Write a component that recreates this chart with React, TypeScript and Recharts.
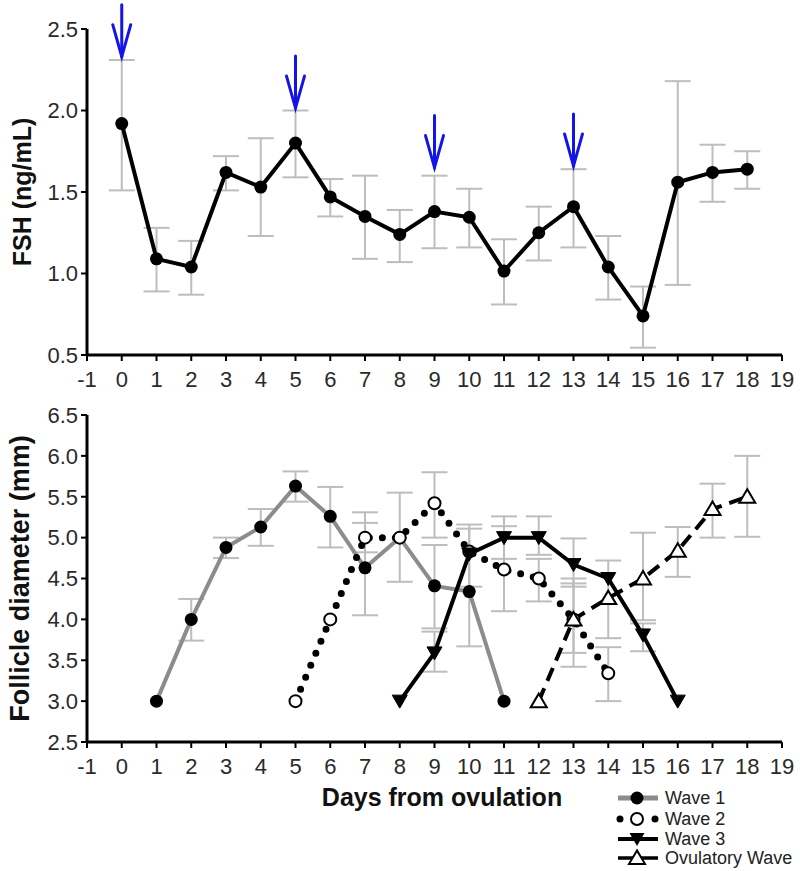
import React from 'react';
import { ComposedChart, Line, Scatter, XAxis, YAxis, ErrorBar, Legend, Label } from 'recharts';

const FONT = '"Liberation Sans", Arial, Helvetica, sans-serif';

// ---------- Top panel: FSH ----------
const fshDays = [0, 1, 2, 3, 4, 5, 6, 7, 8, 9, 10, 11, 12, 13, 14, 15, 16, 17, 18];
const fshMean = [1.92, 1.09, 1.04, 1.62, 1.53, 1.8, 1.47, 1.35, 1.24, 1.38, 1.345, 1.015, 1.25, 1.41, 1.04, 0.74, 1.56, 1.62, 1.64];
const fshLow = [1.51, 0.89, 0.87, 1.51, 1.23, 1.59, 1.35, 1.09, 1.07, 1.155, 1.16, 0.81, 1.08, 1.16, 0.84, 0.545, 0.93, 1.44, 1.52];
const fshHigh = [2.31, 1.28, 1.2, 1.72, 1.83, 2.0, 1.58, 1.6, 1.39, 1.6, 1.52, 1.21, 1.41, 1.64, 1.23, 0.92, 2.18, 1.79, 1.75];
const fshTicks = [0.5, 1.0, 1.5, 2.0, 2.5];

const arrowDays = [0, 5, 9, 13];
const arrowTips = [2.33, 2.015, 1.65, 1.66];

// ---------- Bottom panel: follicle diameter ----------
const wave1Days = [1, 2, 3, 4, 5, 6, 7, 8, 9, 10, 11];
const wave1Mean = [3.0, 4.0, 4.88, 5.13, 5.63, 5.26, 4.63, 5.0, 4.41, 4.34, 3.0];
const wave1Low = [null, 3.74, 4.75, 4.9, 5.44, 4.88, 4.05, 4.46, 3.89, 3.67, null];
const wave1High = [null, 4.25, 5.0, 5.35, 5.81, 5.62, 5.31, 5.55, 4.91, 5.11, null];

const wave2Days = [5, 6, 7, 8, 9, 10, 11, 12, 13, 14];
const wave2Mean = [3.0, 4.0, 5.0, 5.0, 5.42, 4.83, 4.61, 4.5, 4.0, 3.34];
const wave2Low = [null, null, 4.82, null, 5.0, null, 4.1, 4.22, 3.42, 3.0];
const wave2High = [null, null, 5.18, null, 5.8, null, 5.14, 4.74, 4.5, 3.66];

const wave3Days = [8, 9, 10, 11, 12, 13, 14, 15, 16];
const wave3Mean = [3.0, 3.59, 4.8, 5.0, 5.0, 4.67, 4.5, 3.81, 3.0];
const wave3Low = [null, 3.36, 4.4, 4.74, 4.79, 4.4, null, 3.61, null];
const wave3High = [null, 3.85, 5.16, 5.26, 5.26, 4.99, null, 3.95, null];

const ovulDays = [12, 13, 14, 15, 16, 17, 18];
const ovulMean = [3.0, 4.0, 4.26, 4.5, 4.84, 5.35, 5.5];
const ovulLow = [null, 3.59, 3.77, 3.99, 4.52, 5.0, 5.01];
const ovulHigh = [null, 4.44, 4.72, 5.06, 5.13, 5.66, 6.0];

const follTicks = [2.5, 3.0, 3.5, 4.0, 4.5, 5.0, 5.5, 6.0, 6.5];
const xTicks = [-1, 0, 1, 2, 3, 4, 5, 6, 7, 8, 9, 10, 11, 12, 13, 14, 15, 16, 17, 18, 19];

const legendLabels = ['Wave 1', 'Wave 2', 'Wave 3', 'Ovulatory Wave'];

function rows(days: number[], mean: number[], low: (number | null)[], high: (number | null)[]) {
  return days.map((d, i) => ({
    day: d,
    v: mean[i],
    err: low[i] == null || high[i] == null ? null : [mean[i] - (low[i] as number), (high[i] as number) - mean[i]],
  }));
}

const fshRows = rows(fshDays, fshMean, fshLow, fshHigh);
const arrowRows = arrowDays.map((d, i) => ({ day: d, tip: arrowTips[i] }));
const w1Rows = rows(wave1Days, wave1Mean, wave1Low, wave1High);
const w2Rows = rows(wave2Days, wave2Mean, wave2Low, wave2High);
const w3Rows = rows(wave3Days, wave3Mean, wave3Low, wave3High);
const ovRows = rows(ovulDays, ovulMean, ovulLow, ovulHigh);

const ERR = '#bdbdbd';
const tickStyle = { fontSize: 22, fill: '#2a2a2a', fontFamily: FONT };
const axisLineStyle = { stroke: '#000', strokeWidth: 3 };
const tickLineStyle = { stroke: '#000', strokeWidth: 2 };

const filledDot = (p: any) =>
  p.cx == null ? <g key={p.index} /> : <circle key={p.index} cx={p.cx} cy={p.cy} r={6.5} fill="#000" stroke="none" />;
const openDot = (p: any) =>
  p.cx == null ? <g key={p.index} /> : <circle key={p.index} cx={p.cx} cy={p.cy} r={6} fill="#fff" stroke="#000" strokeWidth={2} />;
const downTri = (p: any) =>
  p.cx == null ? (
    <g key={p.index} />
  ) : (
    <polygon key={p.index} points={`${p.cx - 7.5},${p.cy - 6} ${p.cx + 7.5},${p.cy - 6} ${p.cx},${p.cy + 7}`} fill="#000" stroke="#000" strokeWidth={1} />
  );
const upTri = (p: any) =>
  p.cx == null ? (
    <g key={p.index} />
  ) : (
    <polygon key={p.index} points={`${p.cx},${p.cy - 7.5} ${p.cx - 8},${p.cy + 6} ${p.cx + 8},${p.cy + 6}`} fill="#fff" stroke="#000" strokeWidth={2} />
  );

const ArrowShape = (p: any) => {
  const { cx, cy } = p;
  if (cx == null) return <g />;
  return (
    <g stroke="#1414e6" strokeWidth={3} fill="none" strokeLinecap="round">
      <line x1={cx} y1={cy - 52} x2={cx} y2={cy} />
      <polyline points={`${cx - 9},${cy - 32} ${cx},${cy} ${cx + 9},${cy - 32}`} />
    </g>
  );
};

const yLabel = (text: string, size: number, xPos: number) => (props: any) => {
  const vb = props.viewBox || {};
  const cy = vb.y + vb.height / 2;
  return (
    <text
      x={xPos}
      y={cy}
      transform={`rotate(-90, ${xPos}, ${cy})`}
      textAnchor="middle"
      dominantBaseline="central"
      fontFamily={FONT}
      fontWeight="bold"
      fontSize={size}
      fill="#111"
    >
      {text}
    </text>
  );
};

const xTitle = (props: any) => {
  const vb = props.viewBox || {};
  return (
    <text x={442} y={vb.y + 55} textAnchor="middle" dominantBaseline="central" fontFamily={FONT} fontWeight="bold" fontSize={25} fill="#111">
      Days from ovulation
    </text>
  );
};

const renderLegend = () => {
  const ys = [13, 34, 54, 73];
  const sx = 37;
  return (
    <svg width={200} height={84} style={{ overflow: 'visible' }}>
      <line x1={18} y1={ys[0]} x2={58} y2={ys[0]} stroke="#8c8c8c" strokeWidth={5} />
      <circle cx={sx} cy={ys[0]} r={6.5} fill="#000" />
      <circle cx={20} cy={ys[1]} r={3.5} fill="#000" />
      <circle cx={55} cy={ys[1]} r={3.5} fill="#000" />
      <circle cx={sx} cy={ys[1]} r={6} fill="#fff" stroke="#000" strokeWidth={2} />
      <line x1={18} y1={ys[2]} x2={58} y2={ys[2]} stroke="#000" strokeWidth={4} />
      <polygon points={`${sx - 7.5},${ys[2] - 6} ${sx + 7.5},${ys[2] - 6} ${sx},${ys[2] + 7}`} fill="#000" />
      <line x1={18} y1={ys[3]} x2={58} y2={ys[3]} stroke="#000" strokeWidth={3.5} />
      <polygon points={`${sx},${ys[3] - 7.5} ${sx - 8},${ys[3] + 6} ${sx + 8},${ys[3] + 6}`} fill="#fff" stroke="#000" strokeWidth={2} />
      {legendLabels.map((t, i) => (
        <text key={t} x={65} y={ys[i]} dominantBaseline="central" fontFamily={FONT} fontSize={18} fill="#222">
          {t}
        </text>
      ))}
    </svg>
  );
};

export default function App() {
  return (
    <div style={{ position: 'absolute', left: 0, top: 0, width: 800, height: 871, background: '#fff' }}>
      <div style={{ position: 'absolute', left: 0, top: 0 }}>
        <ComposedChart width={800} height={400} margin={{ top: 29, right: 18, bottom: 0, left: 0 }}>
          <XAxis
            type="number"
            dataKey="day"
            domain={[-1, 19]}
            ticks={xTicks}
            interval={0}
            height={45}
            tick={tickStyle}
            tickSize={6}
            tickMargin={10}
            axisLine={axisLineStyle}
            tickLine={tickLineStyle}
          />
          <YAxis
            type="number"
            domain={[0.5, 2.5]}
            ticks={fshTicks}
            interval={0}
            width={87}
            tick={tickStyle}
            tickSize={6}
            tickMargin={3}
            tickFormatter={(v: number) => v.toFixed(1)}
            axisLine={axisLineStyle}
            tickLine={tickLineStyle}
          >
            <Label content={yLabel('FSH (ng/mL)', 25, 22)} />
          </YAxis>
          <Line data={fshRows} dataKey="v" stroke="none" dot={false} activeDot={false} isAnimationActive={false} legendType="none">
            <ErrorBar dataKey="err" width={13} stroke={ERR} strokeWidth={2} direction="y" />
          </Line>
          <Line data={fshRows} dataKey="v" stroke="#000" strokeWidth={4} dot={filledDot} activeDot={false} isAnimationActive={false} />
          <Scatter data={arrowRows} dataKey="tip" shape={ArrowShape} isAnimationActive={false} />
        </ComposedChart>
      </div>
      <div style={{ position: 'absolute', left: 0, top: 400 }}>
        <ComposedChart width={800} height={471} margin={{ top: 15, right: 18, bottom: 94, left: 0 }}>
          <XAxis
            type="number"
            dataKey="day"
            domain={[-1, 19]}
            ticks={xTicks}
            interval={0}
            height={35}
            tick={tickStyle}
            tickSize={6}
            tickMargin={10}
            axisLine={axisLineStyle}
            tickLine={tickLineStyle}
          >
            <Label content={xTitle} />
          </XAxis>
          <YAxis
            type="number"
            domain={[2.5, 6.5]}
            ticks={follTicks}
            interval={0}
            width={87}
            tick={tickStyle}
            tickSize={6}
            tickMargin={3}
            tickFormatter={(v: number) => v.toFixed(1)}
            axisLine={axisLineStyle}
            tickLine={tickLineStyle}
          >
            <Label content={yLabel('Follicle diameter (mm)', 27, 20)} />
          </YAxis>
          {[w1Rows, w2Rows, w3Rows, ovRows].map((r, i) => (
            <Line key={'e' + i} data={r} dataKey="v" stroke="none" dot={false} activeDot={false} isAnimationActive={false} legendType="none">
              <ErrorBar dataKey="err" width={13} stroke={ERR} strokeWidth={2} direction="y" />
            </Line>
          ))}
          <Line data={w1Rows} dataKey="v" stroke="#8c8c8c" strokeWidth={4} dot={filledDot} activeDot={false} isAnimationActive={false} />
          <Line
            data={w2Rows}
            dataKey="v"
            stroke="#000"
            strokeWidth={7}
            strokeDasharray="0 13"
            strokeLinecap="round"
            dot={openDot}
            activeDot={false}
            isAnimationActive={false}
          />
          <Line data={w3Rows} dataKey="v" stroke="#000" strokeWidth={4} dot={downTri} activeDot={false} isAnimationActive={false} />
          <Line
            data={ovRows}
            dataKey="v"
            stroke="#000"
            strokeWidth={4}
            strokeDasharray="14 8"
            dot={upTri}
            activeDot={false}
            isAnimationActive={false}
          />
          <Legend
            content={renderLegend}
            layout="vertical"
            align="center"
            verticalAlign="middle"
            wrapperStyle={{ left: 600, top: 385, width: 200, height: 84 }}
          />
        </ComposedChart>
      </div>
    </div>
  );
}
